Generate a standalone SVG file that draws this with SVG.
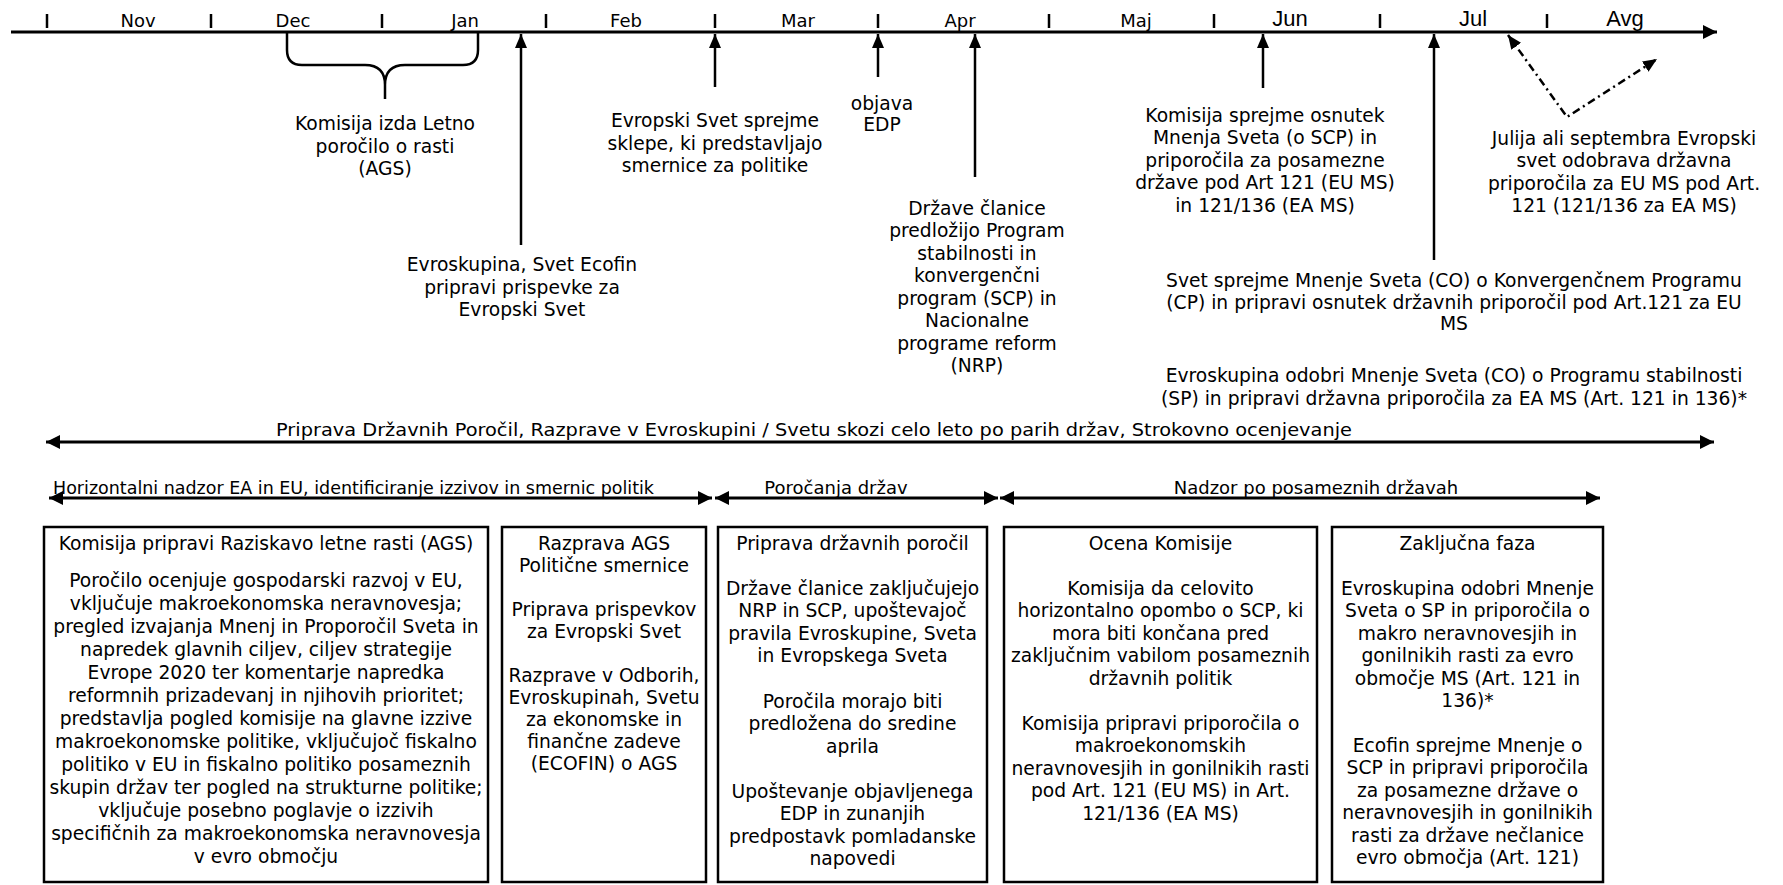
<svg xmlns="http://www.w3.org/2000/svg" width="1783" height="885" viewBox="0 0 1783 885">
<style>
  .t{font-family:"DejaVu Sans",Verdana,sans-serif;font-size:18.7px;fill:#000;text-anchor:middle}
  .m{font-family:"DejaVu Sans",Verdana,sans-serif;font-size:18px;fill:#000;text-anchor:middle}
  .a{font-family:"Liberation Sans",Arial,sans-serif;font-size:22px;fill:#000;text-anchor:middle}
  .ln{stroke:#000;stroke-width:3;fill:none}
  .tk{stroke:#000;stroke-width:2.5}
  .up{stroke:#000;stroke-width:2.5;fill:none}
  .dd{stroke:#000;stroke-width:2.5;fill:none;stroke-dasharray:8 4 2 4}
  .box{fill:#fff;stroke:#000;stroke-width:2.5}
</style>
<defs>
  <marker id="ah" markerUnits="userSpaceOnUse" markerWidth="16" markerHeight="16" refX="14" refY="7" orient="auto-start-reverse" viewBox="0 0 16 16">
    <path d="M0,0 L14,7 L0,14 z" fill="#000"/>
  </marker>
  <marker id="ah2" markerUnits="userSpaceOnUse" markerWidth="16" markerHeight="16" refX="14" refY="6" orient="auto-start-reverse" viewBox="0 0 16 16">
    <path d="M0,0 L14,6 L0,12 z" fill="#000"/>
  </marker>
</defs>

<g id="timeline">
  <line class="ln" x1="11" y1="32" x2="1717" y2="32" marker-end="url(#ah)"/>
  <g id="ticks">
    <line class="tk" x1="47" y1="14" x2="47" y2="28"/>
    <line class="tk" x1="211" y1="14" x2="211" y2="28"/>
    <line class="tk" x1="382" y1="14" x2="382" y2="28"/>
    <line class="tk" x1="546" y1="14" x2="546" y2="28"/>
    <line class="tk" x1="715" y1="14" x2="715" y2="28"/>
    <line class="tk" x1="878" y1="14" x2="878" y2="28"/>
    <line class="tk" x1="1049" y1="14" x2="1049" y2="28"/>
    <line class="tk" x1="1214" y1="14" x2="1214" y2="28"/>
    <line class="tk" x1="1380" y1="14" x2="1380" y2="28"/>
    <line class="tk" x1="1547" y1="14" x2="1547" y2="28"/>
  </g>
  <g id="months">
    <text class="m" x="138" y="27">Nov</text>
    <text class="m" x="293" y="27">Dec</text>
    <text class="m" x="465" y="27">Jan</text>
    <text class="m" x="626" y="27">Feb</text>
    <text class="m" x="798" y="27">Mar</text>
    <text class="m" x="960" y="27">Apr</text>
    <text class="m" x="1136" y="27">Maj</text>
    <text class="a" x="1290" y="26">Jun</text>
    <text class="a" x="1473" y="26">Jul</text>
    <text class="a" x="1625" y="26">Avg</text>
  </g>
</g>

<g id="connectors">
  <path class="up" d="M287,33 L287,50 Q287,65 302,65 L365,65 Q385,65 385,85 L385,99 M478,33 L478,50 Q478,65 463,65 L405,65 Q385,65 385,85"/>
  <line class="up" x1="521" y1="245" x2="521" y2="34" marker-end="url(#ah2)"/>
  <line class="up" x1="715" y1="87" x2="715" y2="34" marker-end="url(#ah2)"/>
  <line class="up" x1="878" y1="77" x2="878" y2="34" marker-end="url(#ah2)"/>
  <line class="up" x1="975" y1="177" x2="975" y2="34" marker-end="url(#ah2)"/>
  <line class="up" x1="1263" y1="88" x2="1263" y2="34" marker-end="url(#ah2)"/>
  <line class="up" x1="1434" y1="260" x2="1434" y2="34" marker-end="url(#ah2)"/>
  <polyline class="dd" points="1508,35 1567,117 1657,59" marker-start="url(#ah2)" marker-end="url(#ah2)"/>
  <line class="ln" x1="46" y1="442" x2="1714" y2="442" marker-start="url(#ah)" marker-end="url(#ah)"/>
  <line class="ln" x1="49" y1="498" x2="712" y2="498" marker-start="url(#ah)" marker-end="url(#ah)"/>
  <line class="ln" x1="715" y1="498" x2="998" y2="498" marker-start="url(#ah)" marker-end="url(#ah)"/>
  <line class="ln" x1="1000" y1="498" x2="1600" y2="498" marker-start="url(#ah)" marker-end="url(#ah)"/>
</g>

<g id="label-ags">
  <text class="t" x="385" y="130">Komisija izda Letno</text>
  <text class="t" x="385" y="152.5">poročilo o rasti</text>
  <text class="t" x="385" y="175">(AGS)</text>
</g>
<g id="label-evroskupina">
  <text class="t" x="522" y="270.5">Evroskupina, Svet Ecofin</text>
  <text class="t" x="522" y="293.5">pripravi prispevke za</text>
  <text class="t" x="522" y="315.5">Evropski Svet</text>
</g>
<g id="label-evropski-svet">
  <text class="t" x="715" y="127">Evropski Svet sprejme</text>
  <text class="t" x="715" y="149.5">sklepe, ki predstavljajo</text>
  <text class="t" x="715" y="172">smernice za politike</text>
</g>
<g id="label-edp">
  <text class="t" x="882" y="109.5">objava</text>
  <text class="t" x="882" y="130.5">EDP</text>
</g>
<g id="label-drzave">
  <text class="t" x="977" y="214.5">Države članice</text>
  <text class="t" x="977" y="237">predložijo Program</text>
  <text class="t" x="977" y="259.5">stabilnosti in</text>
  <text class="t" x="977" y="282">konvergenčni</text>
  <text class="t" x="977" y="304.5">program (SCP) in</text>
  <text class="t" x="977" y="327">Nacionalne</text>
  <text class="t" x="977" y="349.5">programe reform</text>
  <text class="t" x="977" y="372">(NRP)</text>
</g>
<g id="label-komisija-scp">
  <text class="t" x="1265" y="121.5">Komisija sprejme osnutek</text>
  <text class="t" x="1265" y="144">Mnenja Sveta (o SCP) in</text>
  <text class="t" x="1265" y="166.5">priporočila za posamezne</text>
  <text class="t" x="1265" y="189">države pod Art 121 (EU MS)</text>
  <text class="t" x="1265" y="211.5">in 121/136 (EA MS)</text>
</g>
<g id="label-julija">
  <text class="t" x="1624" y="144.5">Julija ali septembra Evropski</text>
  <text class="t" x="1624" y="167">svet odobrava državna</text>
  <text class="t" x="1624" y="189.5">priporočila za EU MS pod Art.</text>
  <text class="t" x="1624" y="212">121 (121/136 za EA MS)</text>
</g>
<g id="label-svet-co">
  <text class="t" x="1454" y="286.5">Svet sprejme Mnenje Sveta (CO) o Konvergenčnem Programu</text>
  <text class="t" x="1454" y="308.5">(CP) in pripravi osnutek državnih priporočil pod Art.121 za EU</text>
  <text class="t" x="1454" y="330">MS</text>
</g>
<g id="label-evroskupina-co">
  <text class="t" x="1454" y="382">Evroskupina odobri Mnenje Sveta (CO) o Programu stabilnosti</text>
  <text class="t" x="1454" y="405">(SP) in pripravi državna priporočila za EA MS (Art. 121 in 136)*</text>
</g>

<g id="label-rows">
  <text class="m" x="276" y="436" style="text-anchor:start" textLength="1076" lengthAdjust="spacingAndGlyphs">Priprava Državnih Poročil, Razprave v Evroskupini / Svetu skozi celo leto po parih držav, Strokovno ocenjevanje</text>
  <text class="m" x="53" y="494" style="text-anchor:start;font-size:17px" textLength="601" lengthAdjust="spacingAndGlyphs">Horizontalni nadzor EA in EU, identificiranje izzivov in smernic politik</text>
  <text class="m" x="836" y="494">Poročanja držav</text>
  <text class="m" x="1316" y="494">Nadzor po posameznih državah</text>
</g>

<g id="box-ags">
  <rect class="box" x="44" y="527" width="444" height="355"/>
  <text class="t" x="266" y="549.5">Komisija pripravi Raziskavo letne rasti (AGS)</text>
  <text class="t" x="266" y="586.5">Poročilo ocenjuje gospodarski razvoj v EU,</text>
  <text class="t" x="266" y="609.5">vključuje makroekonomska neravnovesja;</text>
  <text class="t" x="266" y="632.5">pregled izvajanja Mnenj in Proporočil Sveta in</text>
  <text class="t" x="266" y="655.5">napredek glavnih ciljev, ciljev strategije</text>
  <text class="t" x="266" y="678.5">Evrope 2020 ter komentarje napredka</text>
  <text class="t" x="266" y="701.5">reformnih prizadevanj in njihovih prioritet;</text>
  <text class="t" x="266" y="724.5">predstavlja pogled komisije na glavne izzive</text>
  <text class="t" x="266" y="747.5">makroekonomske politike, vključujoč fiskalno</text>
  <text class="t" x="266" y="770.5">politiko v EU in fiskalno politiko posameznih</text>
  <text class="t" x="266" y="793.5">skupin držav ter pogled na strukturne politike;</text>
  <text class="t" x="266" y="816.5">vključuje posebno poglavje o izzivih</text>
  <text class="t" x="266" y="839.5">specifičnih za makroekonomska neravnovesja</text>
  <text class="t" x="266" y="862.5">v evro območju</text>
</g>

<g id="box-razprava">
  <rect class="box" x="502" y="527" width="204" height="355"/>
  <text class="t" x="604" y="549.5">Razprava AGS</text>
  <text class="t" x="604" y="571.5">Politične smernice</text>
  <text class="t" x="604" y="615.5">Priprava prispevkov</text>
  <text class="t" x="604" y="637.5">za Evropski Svet</text>
  <text class="t" x="604" y="681.5">Razprave v Odborih,</text>
  <text class="t" x="604" y="703.5">Evroskupinah, Svetu</text>
  <text class="t" x="604" y="725.5">za ekonomske in</text>
  <text class="t" x="604" y="747.5">finančne zadeve</text>
  <text class="t" x="604" y="769.5">(ECOFIN) o AGS</text>
</g>

<g id="box-porocila">
  <rect class="box" x="718" y="527" width="269" height="355"/>
  <text class="t" x="852.5" y="549.5">Priprava državnih poročil</text>
  <text class="t" x="852.5" y="594.5">Države članice zaključujejo</text>
  <text class="t" x="852.5" y="617">NRP in SCP, upoštevajoč</text>
  <text class="t" x="852.5" y="639.5">pravila Evroskupine, Sveta</text>
  <text class="t" x="852.5" y="662">in Evropskega Sveta</text>
  <text class="t" x="852.5" y="707.5">Poročila morajo biti</text>
  <text class="t" x="852.5" y="730">predložena do sredine</text>
  <text class="t" x="852.5" y="752.5">aprila</text>
  <text class="t" x="852.5" y="797.5">Upoštevanje objavljenega</text>
  <text class="t" x="852.5" y="820">EDP in zunanjih</text>
  <text class="t" x="852.5" y="842.5">predpostavk pomladanske</text>
  <text class="t" x="852.5" y="865">napovedi</text>
</g>

<g id="box-ocena">
  <rect class="box" x="1004" y="527" width="313" height="355"/>
  <text class="t" x="1160.5" y="549.5">Ocena Komisije</text>
  <text class="t" x="1160.5" y="594.5">Komisija da celovito</text>
  <text class="t" x="1160.5" y="617">horizontalno opombo o SCP, ki</text>
  <text class="t" x="1160.5" y="639.5">mora biti končana pred</text>
  <text class="t" x="1160.5" y="662">zaključnim vabilom posameznih</text>
  <text class="t" x="1160.5" y="684.5">državnih politik</text>
  <text class="t" x="1160.5" y="729.5">Komisija pripravi priporočila o</text>
  <text class="t" x="1160.5" y="752">makroekonomskih</text>
  <text class="t" x="1160.5" y="774.5">neravnovesjih in gonilnikih rasti</text>
  <text class="t" x="1160.5" y="797">pod Art. 121 (EU MS) in Art.</text>
  <text class="t" x="1160.5" y="819.5">121/136 (EA MS)</text>
</g>

<g id="box-zakljucna">
  <rect class="box" x="1332" y="527" width="271" height="355"/>
  <text class="t" x="1467.5" y="549.5">Zaključna faza</text>
  <text class="t" x="1467.5" y="594.5">Evroskupina odobri Mnenje</text>
  <text class="t" x="1467.5" y="617">Sveta o SP in priporočila o</text>
  <text class="t" x="1467.5" y="639.5">makro neravnovesjih in</text>
  <text class="t" x="1467.5" y="662">gonilnikih rasti za evro</text>
  <text class="t" x="1467.5" y="684.5">območje MS (Art. 121 in</text>
  <text class="t" x="1467.5" y="707">136)*</text>
  <text class="t" x="1467.5" y="751.5">Ecofin sprejme Mnenje o</text>
  <text class="t" x="1467.5" y="774">SCP in pripravi priporočila</text>
  <text class="t" x="1467.5" y="796.5">za posamezne države o</text>
  <text class="t" x="1467.5" y="819">neravnovesjih in gonilnikih</text>
  <text class="t" x="1467.5" y="841.5">rasti za države nečlanice</text>
  <text class="t" x="1467.5" y="864">evro območja (Art. 121)</text>
</g>
</svg>
